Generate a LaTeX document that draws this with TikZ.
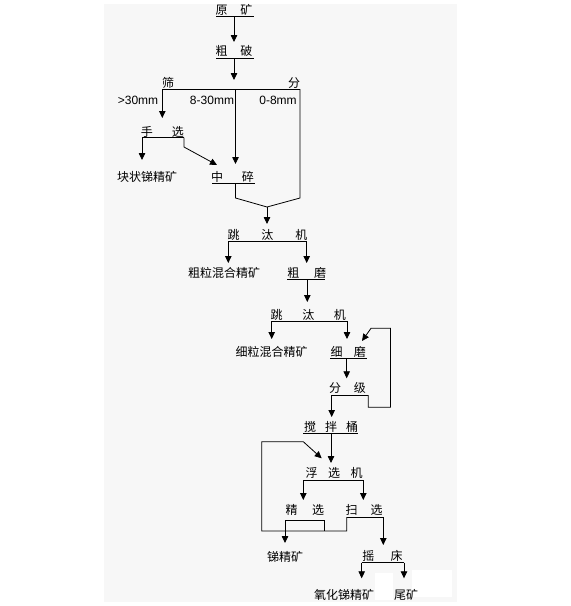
\documentclass[tikz,border=0pt]{standalone}
\usepackage{fontspec}
\setmainfont{Liberation Sans}
\newfontfamily\cjkf{Noto Sans CJK SC}
\usetikzlibrary{arrows.meta}
\begin{document}
\begin{tikzpicture}[x=1pt,y=-1pt,
  ln/.style={draw=black, line width=0.8pt},
  arr/.style={ln, -{Triangle[length=7pt,width=6.5pt]}},
  cn/.style={inner sep=0pt, text height=10.5pt, text depth=1.5pt, font=\fontsize{12pt}{14pt}\selectfont\cjkf},
  en/.style={inner sep=0pt, text height=8.6pt, text depth=0pt, font=\fontsize{12pt}{14pt}\selectfont}]
\useasboundingbox (0,0) rectangle (571,606);
\fill[black!3] (104,4) rectangle (457,602);
\fill[white] (412,570) rectangle (452,597);
\fill[white] (375,573) rectangle (393,600);

% nodes
\node[cn] (yk) at (234,10) {原\hspace{13pt}矿};
\node[cn] (cp) at (234,51) {粗\hspace{13pt}破};
\node[cn] (shai) at (168,83) {筛};
\node[cn] (fen) at (294,83) {分};
\node[en] (g30) at (138,100) {>30mm};
\node[en] (m830) at (212,100) {8-30mm};
\node[en] (m08) at (278,100) {0-8mm};
\node[cn] (sx) at (162.3,132) {手\hspace{19pt}选};
\node[cn] (kz) at (147,177) {块状锑精矿};
\node[cn] (zs) at (232.5,177) {中\hspace{19pt}碎};
\node[cn] (tt1) at (267.5,235) {跳\hspace{22pt}汰\hspace{22pt}机};
\node[cn] (clh) at (224,273) {粗粒混合精矿};
\node[cn] (cm) at (306.7,273) {粗\hspace{14.7pt}磨};
\node[cn] (tt2) at (308.3,315) {跳\hspace{19.7pt}汰\hspace{19.7pt}机};
\node[cn] (xlh) at (271.5,352) {细粒混合精矿};
\node[cn] (xm) at (348.3,352) {细\hspace{11.3pt}磨};
\node[cn] (fj) at (347.5,388.3) {分\hspace{13pt}级};
\node[cn] (jbt) at (331,427) {搅\hspace{9pt}拌\hspace{9pt}桶};
\node[cn] (fxj) at (334,473) {浮\hspace{10.5pt}选\hspace{10.5pt}机};
\node[cn] (jx) at (304.8,510) {精\hspace{14.5pt}选};
\node[cn] (sxx) at (364.2,510) {扫\hspace{13pt}选};
\node[cn] (tjk) at (285,557) {锑精矿};
\node[cn] (yc) at (382.5,556) {摇\hspace{16.4pt}床};
\node[cn] (yhj) at (344,595) {氧化锑精矿};
\node[cn] (wk) at (406,595) {尾矿};

% coordinates
\coordinate (ykL) at (216,16); \coordinate (ykR) at (254,16); \coordinate (ykB) at (234,16);
\coordinate (cpL) at (216,58); \coordinate (cpR) at (254,58); \coordinate (cpB) at (234,58);
\coordinate (cpT) at (234,80);
\coordinate (sfL) at (162.3,89); \coordinate (sfM) at (235.5,89); \coordinate (sfR) at (300,89);
\coordinate (sxT) at (162.3,118);
\coordinate (zsT) at (235.5,164);
\coordinate (sfRb) at (300,198);
\coordinate (mix1) at (267,207); \coordinate (tt1T) at (267,224);
\coordinate (sxL) at (142,137.5); \coordinate (sxR) at (184,137.5);
\coordinate (kzT) at (142,160); \coordinate (sxRb) at (184,147); \coordinate (zsT2) at (217,165);
\coordinate (zsL) at (212,183.3); \coordinate (zsR) at (255,183.3); \coordinate (zsB) at (235.5,183.3);
\coordinate (zsBb) at (235.5,198);
\coordinate (tt1L) at (228.3,241); \coordinate (tt1R) at (306.7,241);
\coordinate (clhT) at (228.3,263); \coordinate (cmT) at (306.7,263);
\coordinate (cmL) at (287.3,279.3); \coordinate (cmR) at (325,279.3); \coordinate (cmB) at (307.3,279.3);
\coordinate (tt2T) at (307.3,302);
\coordinate (tt2L) at (271.7,321); \coordinate (tt2R) at (347,321);
\coordinate (xlhT) at (271.7,339); \coordinate (xmT) at (347,339);
\coordinate (xmL) at (330,358.3); \coordinate (xmR) at (366.7,358.3); \coordinate (xmB) at (346.7,358.3);
\coordinate (fjT) at (346.7,378.3);
\coordinate (fjL) at (331.7,395); \coordinate (fjR) at (368.3,395);
\coordinate (r1) at (368.3,407.3); \coordinate (r2) at (390.5,407.3); \coordinate (r3) at (390.5,328.3);
\coordinate (r4) at (371,328.3); \coordinate (xmT2) at (362,341);
\coordinate (jbtT) at (331.7,417);
\coordinate (jbtL) at (303,433); \coordinate (jbtR) at (358,433); \coordinate (jbtB) at (331,433);
\coordinate (fxjT) at (331,463);
\coordinate (fxjL) at (303.3,480); \coordinate (fxjR) at (363.3,480);
\coordinate (jxT) at (303.3,500); \coordinate (sxxT) at (363.3,500);
\coordinate (jxL) at (285,520); \coordinate (jxR) at (324,520); \coordinate (jxRb) at (324,531);
\coordinate (sxxL) at (346.7,517); \coordinate (sxxR) at (383.3,517);
\coordinate (l1) at (346.7,531); \coordinate (l2) at (261.7,531); \coordinate (l3) at (261.7,441.7);
\coordinate (l4) at (303.3,441.7); \coordinate (fxjT2) at (321.7,458.3);
\coordinate (tjkT) at (285,543); \coordinate (ycT) at (383.3,545);
\coordinate (ycL) at (361.7,562.7); \coordinate (ycR) at (404,562.7);
\coordinate (yhjT) at (361.7,578.3); \coordinate (wkT) at (404,578.3);

% connectors
\draw[ln] (ykL) -- (ykR);
\draw[arr] (ykB) -- (cp.north |- 0,42);
\draw[ln] (cpL) -- (cpR);
\draw[arr] (cpB) -- (cpT);
\draw[ln] (sfL) -- (sfR);
\draw[arr] (sfL) -- (sxT);
\draw[arr] (sfM) -- (zsT);
\draw[ln] (sfR) -- (sfRb) -- (mix1);
\draw[ln] (sxL) -- (sxR);
\draw[arr] (sxL) -- (kzT);
\draw[arr] (sxR) -- (sxRb) -- (zsT2);
\draw[ln] (zsL) -- (zsR);
\draw[ln] (zsB) -- (zsBb) -- (mix1);
\draw[arr] (mix1) -- (tt1T);
\draw[ln] (tt1L) -- (tt1R);
\draw[arr] (tt1L) -- (clhT);
\draw[arr] (tt1R) -- (cmT);
\draw[ln] (cmL) -- (cmR);
\draw[arr] (cmB) -- (tt2T);
\draw[ln] (tt2L) -- (tt2R);
\draw[arr] (tt2L) -- (xlhT);
\draw[arr] (tt2R) -- (xmT);
\draw[ln] (xmL) -- (xmR);
\draw[arr] (xmB) -- (fjT);
\draw[ln] (fjL) -- (fjR);
\draw[arr] (fjR) -- (r1) -- (r2) -- (r3) -- (r4) -- (xmT2);
\draw[arr] (fjL) -- (jbtT);
\draw[ln] (jbtL) -- (jbtR);
\draw[arr] (jbtB) -- (fxjT);
\draw[ln] (fxjL) -- (fxjR);
\draw[arr] (fxjL) -- (jxT);
\draw[arr] (fxjR) -- (sxxT);
\draw[ln] (jxL) -- (jxR) -- (jxRb);
\draw[ln] (sxxL) -- (sxxR);
\draw[arr] (sxxL) -- (l1) -- (l2) -- (l3) -- (l4) -- (fxjT2);
\draw[arr] (jxL) -- (tjkT);
\draw[arr] (sxxR) -- (ycT);
\draw[ln] (ycL) -- (ycR);
\draw[arr] (ycL) -- (yhjT);
\draw[arr] (ycR) -- (wkT);
\end{tikzpicture}
\end{document}
